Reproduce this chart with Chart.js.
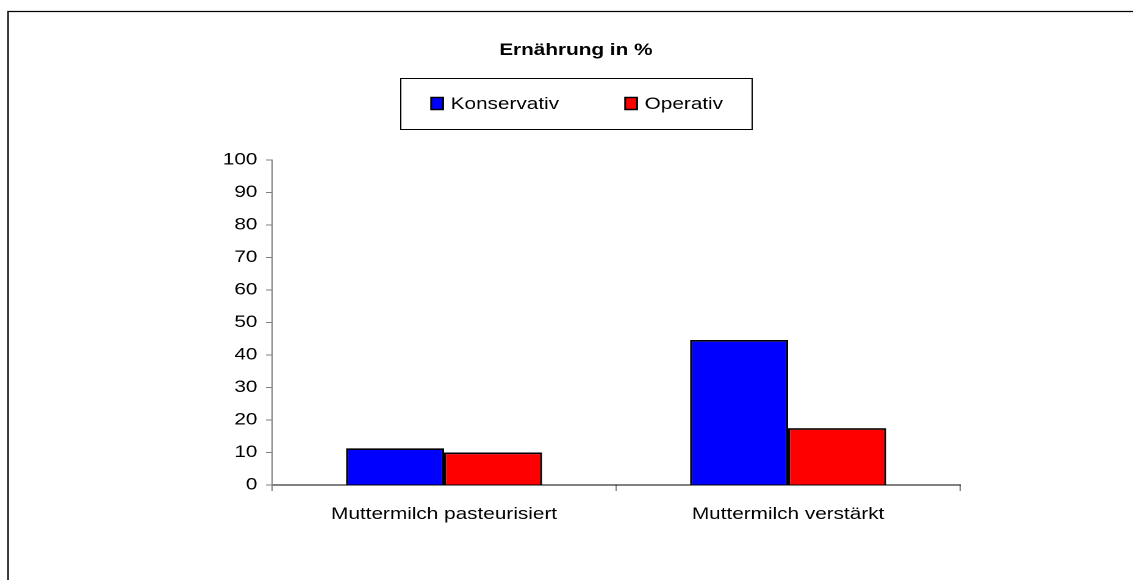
<!DOCTYPE html>
<html>
<head>
<meta charset="utf-8">
<script src="https://cdn.jsdelivr.net/npm/chart.js@4"></script>
<style>
    body { margin: 0; background: #fff; overflow: hidden; }
    /* original chart is stretched sideways, so draw narrow and stretch */
    .wrap { width: 929px; height: 580px; transform: scaleX(1.22); transform-origin: 0 0; }
</style>
</head>
<body>
<div class="wrap"><canvas id="main_chart" width="929" height="580"></canvas></div>
<script>
// chart data
const categories = ["Muttermilch pasteurisiert", "Muttermilch verstärkt"];
const seriesNames = ["Konservativ", "Operativ"];
const konservativ = [11.3, 44.6];
const operativ = [10, 17.5];
const seriesColors = ["#0000FF", "#FF0000"];
const titleText = "Ernährung in %";

const font = "'Liberation Sans', Arial, sans-serif";

// frame line (top + left) and boxed legend
const framePlugin = {
    id: "frame",
    afterDraw(chart) {
        const ctx = chart.ctx;
        ctx.save();
        ctx.strokeStyle = "#000";
        ctx.lineWidth = 1.2;
        ctx.beginPath();
        ctx.moveTo(6.6, 580);
        ctx.lineTo(6.6, 11.5);
        ctx.lineTo(929, 11.5);
        ctx.stroke();

        // legend
        const tb = chart.titleBlock;
        const cx = tb.left + tb.width / 2;
        const w = 288, h = 51, top = 78;
        const left = cx - w / 2;
        ctx.lineWidth = 1;
        ctx.strokeRect(left + 0.5, top + 0.5, w, h);
        ctx.font = "17px " + font;
        ctx.textBaseline = "middle";
        chart.data.datasets.forEach((ds, i) => {
            const x = left + 25.4 + i * 159;
            const y = top + h / 2;
            ctx.fillStyle = ds.backgroundColor;
            ctx.fillRect(x, y - 6, 9.8, 12);
            ctx.lineWidth = 1.5;
            ctx.strokeRect(x, y - 6, 9.8, 12);
            ctx.fillStyle = "#000";
            ctx.fillText(ds.label, x + 16, y + 1);
        });
        ctx.restore();
    }
};

let chart1 = new Chart(document.getElementById("main_chart"), {
    type: "bar",
    data: {
        labels: categories,
        datasets: [{
            label: seriesNames[0],
            data: konservativ,
            backgroundColor: seriesColors[0],
            borderColor: "#000",
            borderWidth: 1.7
        }, {
            label: seriesNames[1],
            data: operativ,
            backgroundColor: seriesColors[1],
            borderColor: "#000",
            borderWidth: 1.7
        }]
    },
    options: {
        responsive: false,
        animation: false,
        devicePixelRatio: 2,
        categoryPercentage: 0.57,
        barPercentage: 1,
        layout: { padding: { left: 157, right: 142, top: 0, bottom: 0 } },
        plugins: {
            legend: { display: false },
            tooltip: { enabled: false },
            title: {
                display: true,
                text: titleText,
                color: "#000",
                font: { family: font, size: 17, weight: "bold" },
                padding: { top: 40, bottom: 99.6 }
            }
        },
        scales: {
            x: {
                grid: { offset: true, drawOnChartArea: false, drawTicks: true, tickLength: 6, color: "#808080" },
                border: { color: "#000", width: 1 },
                ticks: { color: "#000", font: { family: font, size: 17 }, padding: 13, maxRotation: 0 },
                afterFit(scale) { scale.height = 95; }
            },
            y: {
                min: 0,
                max: 100,
                grid: { drawOnChartArea: false, drawTicks: true, tickLength: 5, color: "#808080" },
                border: { color: "#808080", width: 1 },
                ticks: { stepSize: 10, color: "#000", font: { family: font, size: 17 }, padding: 7 },
                afterFit(scale) { scale.width = 66; }
            }
        }
    },
    plugins: [framePlugin]
});
</script>
</body>
</html>
